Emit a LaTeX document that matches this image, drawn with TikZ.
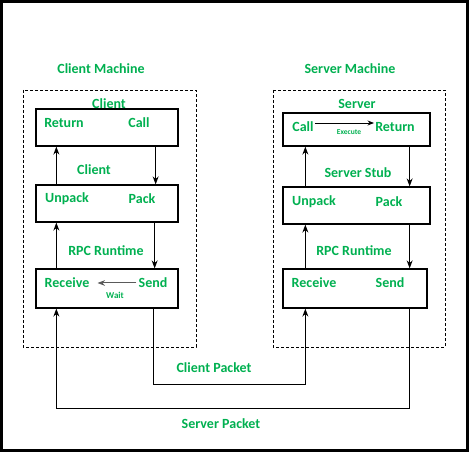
\documentclass[tikz,border=0pt]{standalone}
\usepackage{fontspec}
\setmainfont{Carlito}
\usetikzlibrary{arrows.meta, shapes, positioning}
\usepackage{xcolor}
\definecolor{rpcgreen}{RGB}{0,176,80}
\definecolor{waitgray}{RGB}{90,90,90}
\tikzset{greentext/.style={text=rpcgreen, font=\bfseries\fontsize{14}{16}\selectfont, inner sep=0pt},smallgreentext/.style={text=rpcgreen, font=\bfseries\fontsize{9}{10}\selectfont, inner sep=0pt}}

\begin{document}
\begin{tikzpicture}[
        x=1pt, y=-1pt,
        layerbox/.style={shape=rectangle, draw=black, line width=1.3pt, inner sep=0pt},
        machinebox/.style={draw=black, dash pattern=on 3pt off 2pt, line width=0.6pt},
        flow/.style={-Stealth, line width=1.1pt}
    ]
        \useasboundingbox (0,0) rectangle (474,454);
        % Frame
        \draw[line width=3pt] (1.5,1.5) rectangle (467.5,450.5);
        % Machines
        \draw[machinebox] (23,90) rectangle (196,347);
        \draw[machinebox] (273,90) rectangle (445,347);
        % Layers
        \node[layerbox, minimum width=142pt, minimum height=37pt] (ctop) at (107,127.5) {};
        \node[layerbox, minimum width=142pt, minimum height=37pt] (cmid) at (107,203.5) {};
        \node[layerbox, minimum width=142pt, minimum height=39pt] (cbot) at (107,288.5) {};
        \node[layerbox, minimum width=147pt, minimum height=33pt] (stop) at (356.5,129.5) {};
        \node[layerbox, minimum width=147pt, minimum height=37pt] (smid) at (356.5,205.5) {};
        \node[layerbox, minimum width=144pt, minimum height=39pt] (sbot) at (355,288.5) {};
        % Labels
        \foreach \name/\x/\y/\txt in {
            cmach/101/69/Client Machine,
            smach/350/69/Server Machine,
            ctitle/109/104/Client,
            creturn/64/123/Return,
            ccall/139/123/Call,
            cstub/94/170/Client,
            cunpack/67/199/Unpack,
            cpack/142/199/Pack,
            crpc/106/251/RPC Runtime,
            creceive/67/283/Receive,
            csend/153/283/Send,
            stitle/357/104/Server,
            scall/303/127/Call,
            sreturn/395/127/Return,
            sstub/358/173/Server Stub,
            sunpack/314/202/Unpack,
            spack/389/202/Pack,
            srpc/354/251/RPC Runtime,
            sreceive/314/283/Receive,
            ssend/390/283/Send,
            cpacket/214/368/Client Packet,
            spacket/221/424/Server Packet} {
            \node[greentext] (\name) at (\x,\y) {\txt};
        }
        \node[smallgreentext] (wait) at (115,295) {Wait};
        \node[smallgreentext, font=\bfseries\fontsize{7.5}{9}\selectfont] (execute) at (349,132) {Execute};
        % Client stack
        \draw[flow] ([xshift=21pt]cmid.north west) -- ([xshift=21pt]ctop.south west);
        \draw[flow] ([xshift=-23pt]ctop.south east) -- ([xshift=-23pt]cmid.north east);
        \draw[flow] ([xshift=21pt]cbot.north west) -- ([xshift=21pt]cmid.south west);
        \draw[flow] ([xshift=-24pt]cmid.south east) -- ([xshift=-24pt]cbot.north east);
        \draw[-Stealth, waitgray, line width=1pt, shorten >=8pt, shorten <=2pt] (csend.west) -- (creceive.east);
        % Server stack
        \draw[flow] ([xshift=23pt]smid.north west) -- ([xshift=23pt]stop.south west);
        \draw[flow] ([xshift=-21pt]stop.south east) -- ([xshift=-21pt]smid.north east);
        \draw[flow] ([xshift=23pt]sbot.north west) -- ([xshift=23pt]smid.south west);
        \draw[flow] ([xshift=-21pt]smid.south east) -- ([xshift=-18pt]sbot.north east);
        \draw[-Stealth, line width=0.8pt, shorten >=1pt, shorten <=1pt] ([yshift=4pt]scall.east) -- ([yshift=4pt]sreturn.west);
        % Packets
        \draw[flow] ([xshift=-25pt]cbot.south east) -- ++(0,76) -| ([xshift=23pt]sbot.south west);
        \draw[flow] ([xshift=-18pt]sbot.south east) -- ++(0,100) -| ([xshift=21pt]cbot.south west);
    \end{tikzpicture}
\end{document}
